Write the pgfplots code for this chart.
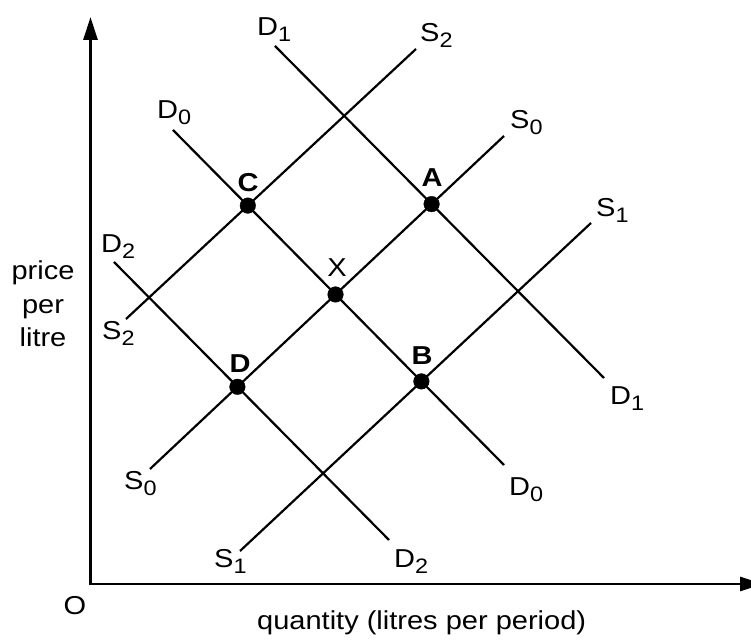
\documentclass[border=0pt]{standalone}
\usepackage{fontspec}
\setmainfont{Liberation Sans}[FakeStretch=1.12]
\usepackage{pgfplots}
\pgfplotsset{compat=1.18}
\usetikzlibrary{arrows.meta}

% letter with a lowered, smaller index
\newcommand{\sub}[2]{#1\raisebox{-6bp}{\fontsize{21}{21}\selectfont #2}}

\begin{document}
\begin{tikzpicture}[
  curve/.style={line width=2.2bp, black},
  lab/.style={anchor=base west, inner sep=0pt, font=\fontsize{26}{30}\selectfont},
  pt/.style={anchor=base, inner sep=0pt, font=\fontsize{26}{30}\selectfont\bfseries},
  txt/.style={anchor=base, inner sep=0pt, font=\fontsize{26}{30}\selectfont},
]

\begin{axis}[
  x=1bp, y=1bp,
  xmin=-90, xmax=661,
  ymin=-55, ymax=585,
  hide axis,
  clip=false,
]

% axes
\draw[line width=2.8bp, {Triangle[length=23bp,width=14bp]}-{Triangle[length=23bp,width=14bp]}]
  (axis cs:0.5,568) -- (axis cs:0.5,1) -- (axis cs:673,1);

% demand curves
\addplot[curve] coordinates {(185,539) (514,207)}; % D1
\addplot[curve] coordinates {(83,455) (414,120)};  % D0
\addplot[curve] coordinates {(24,323) (299,45)};   % D2
% supply curves
\addplot[curve] coordinates {(36,266) (326,536)};  % S2
\addplot[curve] coordinates {(60,116) (414,449)};  % S0
\addplot[curve] coordinates {(150,34) (501,362)};  % S1

% equilibrium points C, X, A, D, B
\addplot[only marks, mark=*, mark size=7.8bp, black] coordinates {
  (157.8,379.4)
  (245.5,290.5)
  (341.6,380.9)
  (147.4,198.2)
  (331.4,203.6)
};

% curve labels
\node[lab] at (axis cs:167,549) {\sub{D}{1}};
\node[lab] at (axis cs:330,543) {\sub{S}{2}};
\node[lab] at (axis cs:67,466)  {\sub{D}{0}};
\node[lab] at (axis cs:420,456) {\sub{S}{0}};
\node[lab] at (axis cs:506,368) {\sub{S}{1}};
\node[lab] at (axis cs:11,332)  {\sub{D}{2}};
\node[lab] at (axis cs:12,245)  {\sub{S}{2}};
\node[lab] at (axis cs:34,95)   {\sub{S}{0}};
\node[lab] at (axis cs:124,17)  {\sub{S}{1}};
\node[lab] at (axis cs:304,17)  {\sub{D}{2}};
\node[lab] at (axis cs:419,89)  {\sub{D}{0}};
\node[lab] at (axis cs:520,180) {\sub{D}{1}};

% point labels
\node[pt] at (axis cs:158,393) {C};
\node[pt] at (axis cs:342,398) {A};
\node[txt] at (axis cs:247,308) {X};
\node[pt] at (axis cs:332,220) {B};
\node[pt] at (axis cs:150,212) {D};

% axis labels
\node[txt] at (axis cs:-15,-30) {O};
\node[lab] at (axis cs:167,-45) {quantity (litres per period)};
\node[txt] at (axis cs:-47,305)   {price};
\node[txt] at (axis cs:-47,271.5) {per};
\node[txt] at (axis cs:-47,238)   {litre};

\coordinate (bl) at (axis cs:-90,-55);
\coordinate (tr) at (axis cs:661,585);
\end{axis}

\pgfresetboundingbox
\useasboundingbox (bl) rectangle (tr);
\end{tikzpicture}
\end{document}
